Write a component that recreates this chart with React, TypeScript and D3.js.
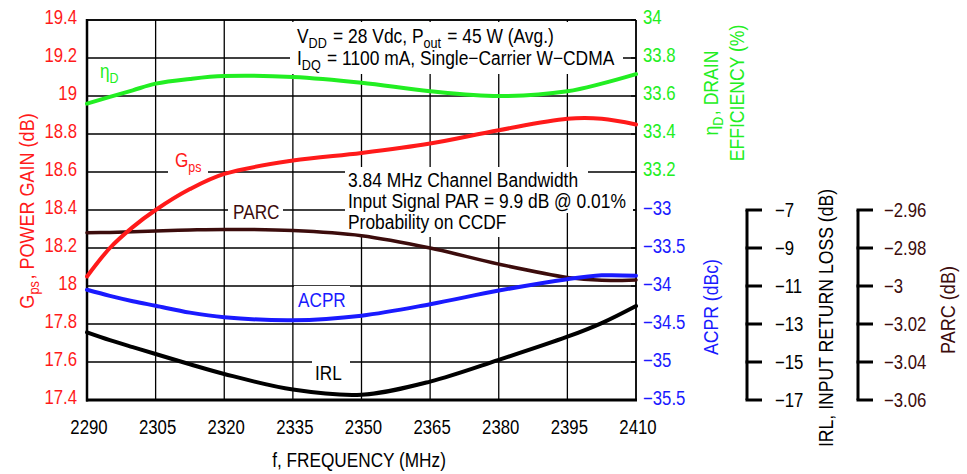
import * as d3 from "d3";
import type { ReactNode } from "react";

// values (frequency in MHz)
const freqs = [2290, 2295, 2300, 2305, 2312.5, 2320, 2335, 2350, 2365, 2380, 2395, 2402.5, 2410];
const gainDb = [18.05, 18.2, 18.31, 18.4, 18.51, 18.59, 18.66, 18.7, 18.75, 18.82, 18.88, 18.88, 18.85];
const drainEff = [33.56, 33.595, 33.63, 33.665, 33.69, 33.705, 33.7, 33.67, 33.625, 33.6, 33.625, 33.665, 33.715];
const parcDb = [-2.972, -2.9718, -2.9715, -2.971, -2.9705, -2.9702, -2.9708, -2.9735, -2.98, -2.9885, -2.9955, -2.997, -2.9968];
const acprDbc = [-34.05, -34.13, -34.2, -34.26, -34.35, -34.41, -34.45, -34.39, -34.24, -34.06, -33.91, -33.86, -33.865];
const irlDb = [-13.44, -13.85, -14.22, -14.58, -15.12, -15.63, -16.45, -16.72, -16.03, -14.89, -13.67, -12.95, -12.05];

const freqTicks = [2290, 2305, 2320, 2335, 2350, 2365, 2380, 2395, 2410];
const gainTicks = [17.4, 17.6, 17.8, 18, 18.2, 18.4, 18.6, 18.8, 19, 19.2, 19.4];
const effTicks = [33.2, 33.4, 33.6, 33.8, 34];
const acprTicks = [-35.5, -35, -34.5, -34, -33.5, -33];
const irlTicks = [-17, -15, -13, -11, -9, -7];
const parcTicks = [-3.06, -3.04, -3.02, -3, -2.98, -2.96];

const FONT = "'Liberation Sans', Arial, sans-serif";
const RED = "#ff1a1a";
const GREEN = "#22ee22";
const BLUE = "#1a1aff";
const BROWN = "#3c0c0c";

const L = 87, R = 636, T = 20, B = 400;

const x = d3.scaleLinear().domain([2290, 2410]).range([L, R]);
const yGain = d3.scaleLinear().domain([17.4, 19.4]).range([B, T]);
const yEff = d3.scaleLinear().domain([32, 34]).range([B, T]);
const yAcpr = d3.scaleLinear().domain([-35.5, -30.5]).range([B, T]);
const yIrl = d3.scaleLinear().domain([-17, 3]).range([B, T]);
const yParc = d3.scaleLinear().domain([-3.06, -2.86]).range([B, T]);

const fmt = (v: number) => String(+v.toFixed(2)).replace("-", "\u2212");

const pathFor = (vals: number[], y: d3.ScaleLinear<number, number>) =>
  d3
    .line<number>()
    .x((_, i) => x(freqs[i]))
    .y((d) => y(d))
    .curve(d3.curveCatmullRom.alpha(0.5))(vals) ?? "";

const Sub = ({ children, dy = 5, size = 14.5 }: { children: string; dy?: number; size?: number }) => (
  <>
    <tspan dy={dy} fontSize={size}>
      {children}
    </tspan>
    <tspan dy={-dy}>{"\u200a"}</tspan>
  </>
);

// condensed text (the reference uses a narrow Helvetica)
type CTProps = {
  x: number;
  y: number;
  rot?: number;
  sx?: number;
  size?: number;
  fill?: string;
  anchor?: "start" | "middle" | "end";
  children: ReactNode;
};
const CT = ({ x, y, rot = 0, sx = 0.86, size = 19.5, fill = "#000", anchor = "start", children }: CTProps) => (
  <text
    transform={`translate(${x},${y}) rotate(${rot}) scale(${sx},1)`}
    fontSize={size}
    fill={fill}
    textAnchor={anchor}
  >
    {children}
  </text>
);

export default function App() {
  return (
    <svg
      width={967}
      height={474}
      style={{ position: "absolute", left: 0, top: 0, background: "#fff" }}
      fontFamily={FONT}
    >
      {/* grid */}
      {gainTicks.map((t) => (
        <line key={"h" + t} x1={L} x2={R} y1={yGain(t)} y2={yGain(t)} stroke="#000" strokeWidth={1.3} />
      ))}
      {freqTicks.map((t) => (
        <line key={"v" + t} x1={x(t)} x2={x(t)} y1={T} y2={B} stroke="#000" strokeWidth={1.3} />
      ))}
      {gainTicks.map((t) => (
        <line key={"rt" + t} x1={R - 5} x2={R} y1={yGain(t)} y2={yGain(t)} stroke="#000" strokeWidth={1.3} />
      ))}

      {/* white label backgrounds */}
      <g fill="#fff">
        <rect x={290} y={22} width={333} height={52} />
        <rect x={345} y={167} width={243} height={24} />
        <rect x={345} y={191} width={288} height={22} />
        <rect x={345} y={213} width={167} height={24} />
        <rect x={168} y={150} width={40} height={30} />
        <rect x={228} y={200} width={55} height={24} />
        <rect x={294} y={286} width={56} height={26} />
        <rect x={312} y={359} width={38} height={25} />
      </g>

      {/* frame */}
      <line x1={L} x2={R} y1={T} y2={T} stroke="#000" strokeWidth={1.5} />
      <line x1={R} x2={R} y1={T} y2={B} stroke="#000" strokeWidth={1.5} />
      <line x1={L} x2={L} y1={T - 1} y2={B + 1.5} stroke="#000" strokeWidth={2.5} />
      <line x1={L - 1} x2={R + 1} y1={B} y2={B} stroke="#000" strokeWidth={3} />

      {/* curves */}
      <g fill="none" strokeLinecap="round">
        <path d={pathFor(parcDb, yParc)} stroke={BROWN} strokeWidth={3.5} />
        <path d={pathFor(irlDb, yIrl)} stroke="#000" strokeWidth={4} />
        <path d={pathFor(acprDbc, yAcpr)} stroke={BLUE} strokeWidth={4} />
        <path d={pathFor(gainDb, yGain)} stroke={RED} strokeWidth={4} />
        <path d={pathFor(drainEff, yEff)} stroke={GREEN} strokeWidth={4} />
      </g>

      {/* left axis labels */}
      {gainTicks.map((t) => (
        <CT key={"g" + t} x={L - 10} y={yGain(t) + 4} fill={RED} anchor="end">
          {fmt(t)}
        </CT>
      ))}
      {effTicks.map((t) => (
        <CT key={"e" + t} x={643} y={yEff(t) + 4} fill={GREEN}>
          {fmt(t)}
        </CT>
      ))}
      {acprTicks.map((t) => (
        <CT key={"a" + t} x={643} y={yAcpr(t) + 5} fill={BLUE}>
          {fmt(t)}
        </CT>
      ))}

      {/* IRL axis */}
      <line x1={747} x2={747} y1={yIrl(-7)} y2={yIrl(-17)} stroke="#000" strokeWidth={3} />
      {irlTicks.map((t) => (
        <g key={"i" + t}>
          <line x1={745.5} x2={762} y1={yIrl(t)} y2={yIrl(t)} stroke="#000" strokeWidth={3} />
          <CT x={775} y={yIrl(t) + 7}>{fmt(t)}</CT>
        </g>
      ))}

      {/* PARC axis */}
      <line x1={858} x2={858} y1={yParc(-2.96)} y2={yParc(-3.06)} stroke="#000" strokeWidth={3} />
      {parcTicks.map((t) => (
        <g key={"p" + t}>
          <line x1={856.5} x2={873} y1={yParc(t)} y2={yParc(t)} stroke="#000" strokeWidth={3} />
          <CT x={884} y={yParc(t) + 7} fill={BROWN}>
            {fmt(t)}
          </CT>
        </g>
      ))}

      {/* x axis labels */}
      {freqTicks.map((t) => (
        <CT key={"f" + t} x={x(t) + 2} y={434} anchor="middle">
          {t}
        </CT>
      ))}
      <CT x={359} y={467} size={20.5} sx={0.84} anchor="middle">
        f, FREQUENCY (MHz)
      </CT>

      {/* axis titles */}
      <CT x={34} y={211} rot={-90} size={20.5} sx={0.88} fill={RED} anchor="middle">
        G<Sub>ps</Sub>, POWER GAIN (dB)
      </CT>
      <CT x={718} y={93} rot={-90} size={20.5} sx={0.86} fill={GREEN} anchor="middle">
        η<Sub>D</Sub>, DRAIN
      </CT>
      <CT x={744} y={93} rot={-90} size={20.5} sx={0.86} fill={GREEN} anchor="middle">
        EFFICIENCY (%)
      </CT>
      <CT x={718} y={307} rot={-90} size={20.5} sx={0.86} fill={BLUE} anchor="middle">
        ACPR (dBc)
      </CT>
      <CT x={833} y={318} rot={-90} size={20.5} sx={0.86} anchor="middle">
        IRL, INPUT RETURN LOSS (dB)
      </CT>
      <CT x={955} y={310} rot={-90} size={20.5} sx={0.88} fill={BROWN} anchor="middle">
        PARC (dB)
      </CT>

      {/* in-plot series labels */}
      <CT x={100} y={78} size={20} fill={GREEN}>
        η<Sub>D</Sub>
      </CT>
      <CT x={175} y={167} size={20} fill={RED}>
        G<Sub>ps</Sub>
      </CT>
      <CT x={233} y={219} size={20} fill={BROWN}>
        PARC
      </CT>
      <CT x={298} y={307} size={20} fill={BLUE}>
        ACPR
      </CT>
      <CT x={315} y={380} size={20}>
        IRL
      </CT>

      {/* annotations */}
      <CT x={297} y={43} size={20} sx={0.87}>
        V<Sub>DD</Sub> = 28 Vdc, P<Sub>out</Sub> = 45 W (Avg.)
      </CT>
      <CT x={297} y={65} size={20} sx={0.87}>
        I<Sub>DQ</Sub> = 1100 mA, Single−Carrier W−CDMA
      </CT>
      <CT x={348} y={187} size={20} sx={0.87}>3.84 MHz Channel Bandwidth</CT>
      <CT x={348} y={208} size={20} sx={0.87}>Input Signal PAR = 9.9 dB @ 0.01%</CT>
      <CT x={348} y={229} size={20} sx={0.87}>Probability on CCDF</CT>
    </svg>
  );
}
